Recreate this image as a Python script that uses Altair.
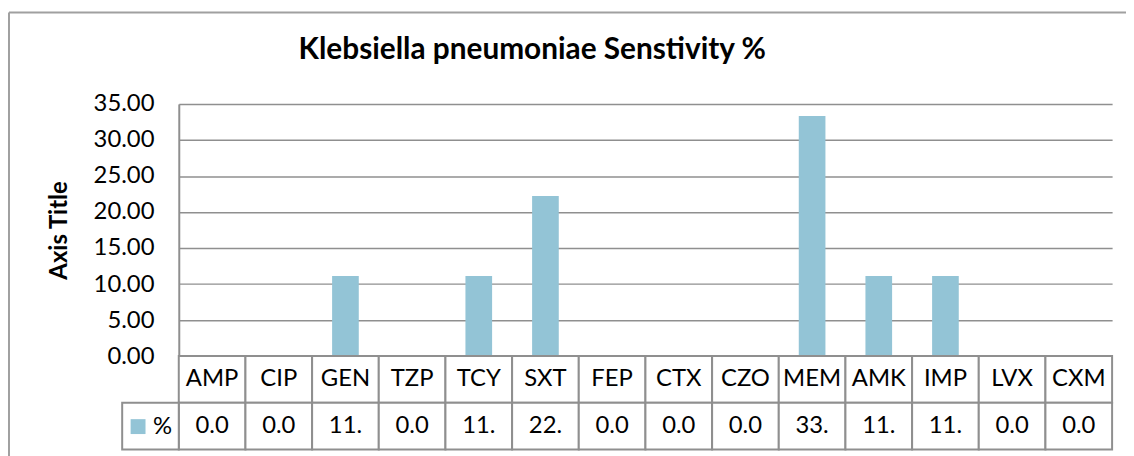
import altair as alt
import pandas as pd

categories = ["AMP", "CIP", "GEN", "TZP", "TCY", "SXT", "FEP", "CTX", "CZO", "MEM", "AMK", "IMP", "LVX", "CXM"]
values = [0.0, 0.0, 11.11, 0.0, 11.11, 22.22, 0.0, 0.0, 0.0, 33.33, 11.11, 11.11, 0.0, 0.0]
series_name = "%"
row_names = ["Category", "Value"]
y_ticks = [0, 5, 10, 15, 20, 25, 30, 35]
title_text = "Klebsiella pneumoniae Senstivity %"
y_title = "Axis Title"

bar_color = "#93C4D6"
line_color = "#8F8F8F"
FONT = "Lato"

W = 940
H_PLOT = 254
H_TAB = 94
H = H_PLOT + H_TAB

bars_df = pd.DataFrame({"cat": categories, "val": values, "series": [series_name] * len(categories)})

rows = []
for c, v in zip(categories, values):
    rows.append({"cat": c, "row": "Category", "label": c})
    rows.append({"cat": c, "row": "Value", "label": f"{v:.2f}"[:3]})
table_df = pd.DataFrame(rows)

x_enc = alt.X("cat:N", sort=categories,
              scale=alt.Scale(domain=categories, paddingInner=0, paddingOuter=0),
              axis=None)
row_scale = alt.Scale(domain=row_names, range=[H_PLOT, H], paddingInner=0, paddingOuter=0)
y_row = alt.Y("row:N", sort=row_names, scale=row_scale, axis=None)

bars = alt.Chart(bars_df).mark_bar(width={"band": 0.4}).encode(
    x=x_enc,
    y=alt.Y("val:Q",
            scale=alt.Scale(domain=[0, 35], range=[H_PLOT, 0], nice=False, zero=True),
            axis=alt.Axis(values=y_ticks, format=".2f", grid=True, gridColor=line_color,
                          gridWidth=1.5, domainColor=line_color, domainWidth=2, ticks=False,
                          labelFontSize=24, labelPadding=25, labelColor="black",
                          title=y_title, titleFontSize=24, titleFontWeight="bold",
                          titleColor="black", titleX=-120, titleY=H_PLOT / 2,
                          titleAngle=270, titleAlign="center", titleBaseline="middle")),
    color=alt.Color("series:N", scale=alt.Scale(domain=[series_name], range=[bar_color]),
                    legend=alt.Legend(title=None, orient="none", legendX=-53, legendY=313,
                                      symbolType="square", symbolSize=225, symbolStrokeWidth=0,
                                      labelFontSize=24, labelColor="black", padding=0,
                                      labelOffset=3)),
)

cells = alt.Chart(table_df).mark_rect(fill="white", stroke=line_color, strokeWidth=2).encode(
    x=x_enc, y=y_row)

legend_cell = alt.Chart(pd.DataFrame({"row": ["Value"]})).mark_rect(
    fill="white", stroke=line_color, strokeWidth=2).encode(
    x=alt.value(-57), x2=alt.value(0), y=y_row)

texts = alt.Chart(table_df).mark_text(fontSize=24, baseline="middle", color="black").encode(
    x=x_enc, y=y_row, text="label:N")

frame_df = pd.DataFrame({"k": [0]})
frame_left = alt.Chart(frame_df).mark_rule(color="#A0A0A0", strokeWidth=2).encode(
    x=alt.value(-171), y=alt.value(-92), y2=alt.value(H + 30))
frame_top = alt.Chart(frame_df).mark_rule(color="#A0A0A0", strokeWidth=2).encode(
    x=alt.value(-171), x2=alt.value(W + 40), y=alt.value(-92))

chart = alt.layer(frame_left, frame_top, bars, cells, legend_cell, texts).resolve_scale(
    y="independent"
).properties(
    width=W, height=H,
    title=alt.Title(title_text, fontSize=30, fontWeight="bold", color="black",
                    anchor="middle", dx=-114, offset=-78, baseline="alphabetic"),
    autosize=alt.AutoSizeParams(type="none"),
    padding={"left": 172, "top": 95, "right": 14, "bottom": 5},
).configure(font=FONT).configure_view(stroke=None)

chart.save("out.html", embed_options={"renderer": "svg", "actions": False})
